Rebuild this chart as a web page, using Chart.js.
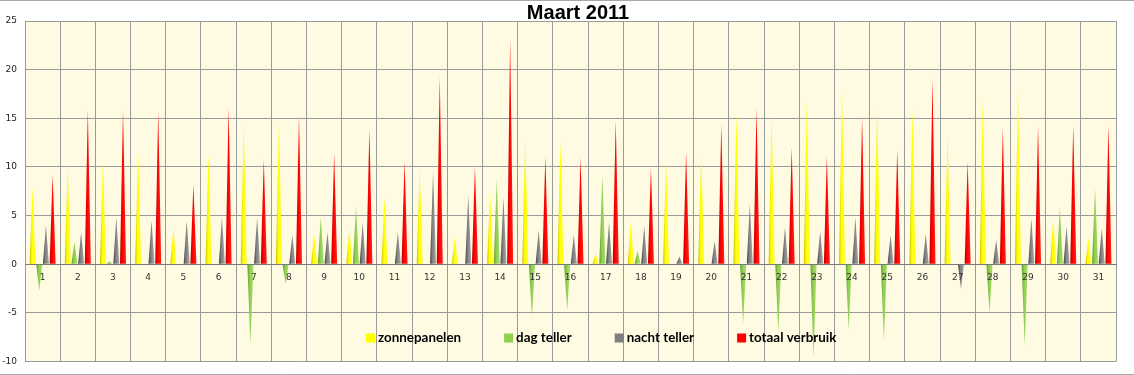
<!DOCTYPE html>
<html>
<head>
<meta charset="utf-8">
<title>Maart 2011</title>
<script src="https://cdn.jsdelivr.net/npm/chart.js@4.4.1/dist/chart.umd.min.js"></script>
<style>
  html, body { margin: 0; padding: 0; background: #fff; }
  #wrap { width: 1134px; height: 375px; }
</style>
</head>
<body>
<div id="wrap"><canvas id="myChart" width="1134" height="375"></canvas></div>
<script>
var days = ["1", "2", "3", "4", "5", "6", "7", "8", "9", "10", "11", "12", "13", "14", "15", "16",
  "17", "18", "19", "20", "21", "22", "23", "24", "25", "26", "27", "28", "29", "30", "31"];

var zonnepanelen = [7.9, 10.1, 10.7, 11.4, 3.7, 11.4, 14.4, 14.5, 3.1, 3.6, 6.9, 9.8, 2.8, 7.3, 12.9, 12.6,
  1.1, 4.4, 10.5, 11.5, 15.7, 15.3, 16.9, 17.9, 16.6, 16.1, 13.2, 17.0, 17.9, 4.7, 2.7];
var dagTeller = [-2.7, 2.3, 0.3, 0, 0, 0, -8.2, -2.0, 4.8, 5.9, 0, 0, 0, 8.7, -5.4, -4.7,
  9.1, 1.4, 0, 0, -6.1, -6.9, -9.6, -6.7, -7.8, 0, 0, -5.0, -8.3, 5.8, 7.8];
var nachtTeller = [4.0, 3.3, 4.8, 4.5, 4.5, 4.8, 4.8, 3.0, 3.3, 4.3, 3.3, 9.5, 7.1, 6.9, 3.5, 3.0,
  4.3, 3.9, 0.8, 2.4, 6.2, 3.8, 3.4, 4.8, 3.0, 3.1, -2.5, 2.5, 4.7, 3.9, 3.7];
var totaalVerbruik = [9.2, 15.9, 15.8, 15.7, 8.2, 16.1, 10.8, 15.2, 11.4, 13.9, 10.6, 19.3, 10.0, 23.1, 11.1, 11.0,
  14.8, 9.9, 11.5, 14.4, 16.0, 12.0, 11.1, 15.1, 11.8, 19.1, 10.6, 14.0, 14.2, 14.3, 14.3];

var yTicks = [-10, -5, 0, 5, 10, 15, 20, 25];

// colours: legend colour + shading for the cone look (left, middle, right)
var seriesColors = ["#ffff00", "#8fce4f", "#7f7f7f", "#ff0000"];
var seriesShades = [
  ["#c8c000", "#ffff00", "#ffff30"],
  ["#5a9a2c", "#8fce4f", "#a6dc6e"],
  ["#404040", "#808080", "#a8a8a8"],
  ["#b80000", "#ff0000", "#ff2020"]
];

// background + outer frame
var frame = {
  id: "frame",
  beforeDraw: function (chart) {
    var c = chart.ctx, a = chart.chartArea;
    var bottomLine = Math.min(374.5, chart.height - 0.5);
    c.save();
    c.fillStyle = "#ffffff";
    c.fillRect(0, 0, chart.width, chart.height);
    c.fillStyle = "#fffbe3";
    c.fillRect(a.left, a.top, a.right - a.left, a.bottom - a.top);
    c.strokeStyle = "#a8a8a8";
    c.lineWidth = 1;
    c.beginPath();
    c.moveTo(0, 0.5); c.lineTo(chart.width, 0.5);
    c.moveTo(0, bottomLine); c.lineTo(chart.width, bottomLine);
    c.stroke();
    c.restore();
  }
};

// draw each bar as a thin cone instead of a rectangle
var spikes = {
  id: "spikes",
  beforeDatasetDraw: function (chart, args) {
    var c = chart.ctx;
    var shade = seriesShades[args.index];
    c.save();
    args.meta.data.forEach(function (bar) {
      var p = bar.getProps(["x", "y", "base", "width"], true);
      if (Math.abs(p.y - p.base) < 0.5) return;
      var half = p.width / 2;
      var g = c.createLinearGradient(p.x - half, 0, p.x + half, 0);
      g.addColorStop(0, shade[0]);
      g.addColorStop(0.4, shade[1]);
      g.addColorStop(1, shade[2]);
      c.fillStyle = g;
      c.beginPath();
      c.moveTo(p.x - half, p.base);
      c.lineTo(p.x, p.y);
      c.lineTo(p.x + half, p.base);
      c.closePath();
      c.fill();
    });
    c.restore();
    return false;
  }
};

// title and legend drawn inside the plot like the original sheet
var texts = {
  id: "texts",
  afterDraw: function (chart) {
    var c = chart.ctx;
    c.save();
    c.fillStyle = "#000";
    c.font = "bold 20px 'Liberation Sans', Arial, sans-serif";
    c.textAlign = "center";
    c.textBaseline = "alphabetic";
    c.fillText("Maart 2011", 578, 19);

    c.font = "bold 13.4px Lato, 'Open Sans', sans-serif";
    c.textAlign = "left";
    c.textBaseline = "middle";
    var x = 366, y = 338;
    chart.data.datasets.forEach(function (ds) {
      c.fillStyle = ds.backgroundColor;
      c.fillRect(x, y - 4.5, 9, 9);
      c.fillStyle = "#000";
      c.fillText(ds.label, x + 12, y);
      x += 12 + c.measureText(ds.label).width + 43;
    });
    c.restore();
  }
};

new Chart("myChart", {
  type: "bar",
  data: {
    labels: days,
    datasets: [
      { label: "zonnepanelen", data: zonnepanelen, backgroundColor: seriesColors[0] },
      { label: "dag teller", data: dagTeller, backgroundColor: seriesColors[1] },
      { label: "nacht teller", data: nachtTeller, backgroundColor: seriesColors[2] },
      { label: "totaal verbruik", data: totaalVerbruik, backgroundColor: seriesColors[3] }
    ]
  },
  options: {
    responsive: false,
    animation: false,
    layout: { autoPadding: false, padding: { top: 21, right: 18, bottom: 10.6, left: 0 } },
    datasets: { bar: { categoryPercentage: 0.76, barPercentage: 0.9 } },
    scales: {
      x: {
        position: { y: 0 },
        afterFit: function (s) { s.height = 0; },
        grid: { color: "#9a9a9a", drawTicks: false, offset: true },
        border: { color: "#7a7a7a", z: 1 },
        ticks: { color: "#333", padding: 8, z: 1, font: { family: "'DejaVu Sans', Verdana, sans-serif", size: 9 } }
      },
      y: {
        min: -10,
        max: 25,
        afterFit: function (s) { s.width = 25; },
        afterBuildTicks: function (s) { s.ticks = yTicks.map(function (v) { return { value: v }; }); },
        grid: { color: "#9a9a9a", drawTicks: false },
        border: { color: "#9a9a9a" },
        ticks: { color: "#222", padding: 8, font: { family: "'DejaVu Sans', Verdana, sans-serif", size: 9 } }
      }
    },
    plugins: {
      legend: { display: false },
      title: { display: false },
      tooltip: { enabled: false }
    }
  },
  plugins: [frame, spikes, texts]
});
</script>
</body>
</html>
